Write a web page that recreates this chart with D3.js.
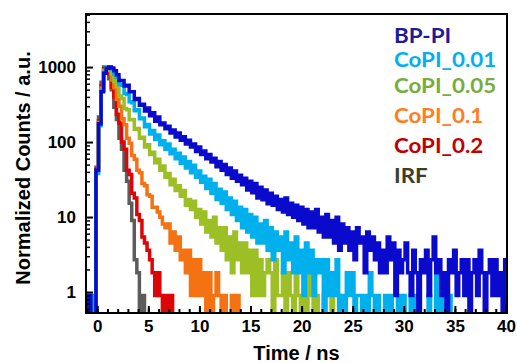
<!DOCTYPE html>
<html>
<head>
<meta charset="utf-8">
<script src="https://cdn.jsdelivr.net/npm/d3@7"></script>
<style>
  body { margin: 0; background: #fff; }
  text { font-family: "Liberation Sans", Arial, sans-serif; font-weight: bold; }
</style>
</head>
<body>
<div id="chart"></div>
<script>
// channel times (ns), shared by all decays
const time = [
  -1, -0.75, -0.5, -0.25,
  0, 0.25, 0.5, 0.75, 1, 1.25, 1.5, 1.75, 2, 2.25, 2.5, 2.75, 3, 3.25, 3.5, 3.75,
  4, 4.25, 4.5, 4.75, 5, 5.25, 5.5, 5.75, 6, 6.25, 6.5, 6.75, 7, 7.25, 7.5, 7.75,
  8, 8.25, 8.5, 8.75, 9, 9.25, 9.5, 9.75, 10, 10.25, 10.5, 10.75, 11, 11.25, 11.5, 11.75,
  12, 12.25, 12.5, 12.75, 13, 13.25, 13.5, 13.75, 14, 14.25, 14.5, 14.75, 15, 15.25, 15.5, 15.75,
  16, 16.25, 16.5, 16.75, 17, 17.25, 17.5, 17.75, 18, 18.25, 18.5, 18.75, 19, 19.25, 19.5, 19.75,
  20, 20.25, 20.5, 20.75, 21, 21.25, 21.5, 21.75, 22, 22.25, 22.5, 22.75, 23, 23.25, 23.5, 23.75,
  24, 24.25, 24.5, 24.75, 25, 25.25, 25.5, 25.75, 26, 26.25, 26.5, 26.75, 27, 27.25, 27.5, 27.75,
  28, 28.25, 28.5, 28.75, 29, 29.25, 29.5, 29.75, 30, 30.25, 30.5, 30.75, 31, 31.25, 31.5, 31.75,
  32, 32.25, 32.5, 32.75, 33, 33.25, 33.5, 33.75, 34, 34.25, 34.5, 34.75, 35, 35.25, 35.5, 35.75,
  36, 36.25, 36.5, 36.75, 37, 37.25, 37.5, 37.75, 38, 38.25, 38.5, 38.75, 39, 39.25, 39.5, 39.75,
  40
];

const names = ["BP-PI", "CoPI_0.01", "CoPI_0.05", "CoPI_0.1", "CoPI_0.2", "IRF"];

// normalized counts
const bpPI = [
  0, 0.9, 0, 0,
  42, 175, 470, 830, 965, 1000, 975, 890, 790, 660, 660, 560, 570, 470, 470, 370,
  380, 310, 320, 260, 285, 225, 245, 190, 215, 170, 180, 150, 162, 132, 145, 117,
  132, 106, 118, 94, 106, 86, 94, 75, 86, 68, 76, 60, 68, 54, 61, 47,
  55, 42, 50, 37, 45, 33, 41, 30, 36, 27, 33, 23, 30, 21, 28, 18,
  25, 17, 23, 15, 20.7, 14.4, 18.9, 12.6, 17.1, 11.7, 18, 10.8, 15.3, 9.9, 14.4, 9,
  13.5, 8.1, 12.6, 7.2, 11.7, 7.2, 12.6, 6.3, 9.9, 5.4, 10.8, 5.4, 9, 4.5, 9.9, 3.6,
  8.1, 4.5, 7.2, 3.6, 6.3, 2.7, 7.2, 4.5, 5.4, 1.8, 6.3, 3.6, 5.4, 2.7, 4.5, 1.8,
  3.6, 1.8, 5.4, 2.7, 4.5, 0.9, 3.6, 1.8, 2.7, 4.5, 1.8, 0.9, 3.6, 1.8, 0, 2.7,
  1.8, 3.6, 0.9, 2.7, 5.4, 1.8, 2.7, 0.9, 1.8, 0, 2.7, 1.8, 3.6, 0.9, 1.8, 2.7,
  0.9, 2.7, 0, 1.8, 2.7, 0.9, 3.6, 1.8, 0, 1.8, 2.7, 0.9, 2.7, 0.9, 1.8, 0,
  2.7
];
const coPI001 = [
  0, 0, 0.9, 0,
  38, 165, 490, 850, 990, 1000, 925, 805, 720, 590, 570, 445, 430, 345, 335, 262,
  270, 205, 210, 160, 172, 128, 142, 108, 124, 92, 104, 80, 94, 70, 80, 60,
  71, 52, 63, 45, 55, 39, 49, 34, 41, 29, 35, 24, 32, 20.7, 28, 17.1,
  23.4, 15.3, 21.6, 12.6, 18, 10.8, 16.2, 9, 13.5, 7.2, 12.6, 6.3, 10.8, 5.4, 9.9, 4.5,
  8.1, 4.5, 9, 3.6, 7.2, 2.7, 6.3, 3.6, 5.4, 1.8, 6.3, 2.7, 4.5, 1.8, 5.4, 1.8,
  3.6, 0.9, 4.5, 1.8, 3.6, 0.9, 2.7, 1.8, 2.7, 0, 2.7, 0.9, 1.8, 0.9, 2.7, 0,
  0.9, 0, 1.8, 0.9, 1.8, 0, 0.9, 0.9, 0, 0.9, 0, 1.8, 0.9, 0, 0.9, 0,
  0, 0.9, 0, 0.9, 0, 0, 0.9, 0, 0.9, 0, 0, 0.9, 0, 0.9, 0, 0,
  0, 0, 0.9, 0, 0, 2.7, 0, 0.9, 0, 0, 0.9, 0,
  0
];
const coPI005 = [
  0, 0, 0, 0.9,
  40, 172, 500, 870, 1000, 950, 810, 640, 550, 410, 380, 280, 270, 198, 200, 148,
  152, 112, 116, 86, 92, 68, 73, 53, 59, 42, 48, 34, 38, 27, 32, 22.5,
  26.1, 18.9, 22.5, 14.4, 17.1, 12.6, 16.2, 9.9, 12.6, 8.1, 11.7, 6.3, 9, 5.4, 9.9, 4.5,
  7.2, 3.6, 7.2, 2.7, 5.4, 1.8, 6.3, 2.7, 4.5, 1.8, 4.5, 1.8, 3.6, 0.9, 3.6, 0.9,
  2.7, 0.9, 1.8, 2.7, 1.8, 0, 2.7, 0.9, 0.9, 1.8, 0, 1.8, 0.9, 0, 1.8, 0.9,
  0, 0.9, 0, 1.8, 0.9, 0, 0.9, 0, 0, 0.9, 0, 0, 0.9, 0, 0, 0.9,
  0
];
const coPI01 = [
  0, 0.9, 0, 0,
  41, 182, 525, 905, 1000, 900, 670, 530, 370, 300, 205, 170, 112, 96, 66, 59,
  42, 39, 28, 26.1, 19.8, 18.9, 13.5, 13.5, 11.7, 9.9, 8.1, 7.2, 8.1, 4.5, 6.3, 3.6,
  5.4, 2.7, 3.6, 1.8, 3.6, 0.9, 2.7, 0.9, 2.7, 0.9, 1.8, 0, 1.8, 0, 0.9, 1.8,
  0.9, 0, 0.9, 0, 0, 0.9, 0, 0.9,
  0
];
const coPI02 = [
  0.9, 0, 0, 0,
  43, 192, 565, 950, 990, 820, 540, 400, 235, 178, 100, 80, 42, 37, 20.7, 18,
  10.8, 9, 5.4, 4.5, 3.6, 2.7, 1.8, 0.9, 1.8, 0.9, 0, 0.9, 0, 0.9, 0, 0,
  0
];
const irf = [
  0, 0, 0, 0,
  46, 215, 625, 1000, 950, 700, 500, 290, 200, 112, 80, 42, 30, 15.3, 9, 2.7,
  1.8, 0, 0.9, 0,
  0
];

const xTickValues = [0, 5, 10, 15, 20, 25, 30, 35, 40];
const yTickValues = [1, 10, 100, 1000];

const seriesValues = [bpPI, coPI001, coPI005, coPI01, coPI02, irf];
const lineColors = ["#0a0acc", "#00b0ec", "#9cbf26", "#f47212", "#dc0606", "#5c5c5c"];
const textColors = ["#1c1c98", "#00b0f0", "#76ad3c", "#ff7d1c", "#c00000", "#3c3e28"];
const legendBaselines = [43, 67, 93, 123, 153, 183];

const W = 517, H = 363;
const plot = { left: 86, right: 507, top: 14, bottom: 313 };

const svg = d3.select("#chart").append("svg")
  .attr("width", W).attr("height", H);

const x = d3.scaleLinear().domain([-1.1, 40.1]).range([plot.left, plot.right]);
const y = d3.scaleLog().domain([0.525, 5100]).range([plot.bottom, plot.top]);

svg.append("clipPath").attr("id", "clip")
  .append("rect")
  .attr("x", plot.left).attr("y", plot.top)
  .attr("width", plot.right - plot.left).attr("height", plot.bottom - plot.top);

const line = d3.line()
  .x((d, i) => x(time[i]))
  .y(d => y(Math.max(d, 0.4)))
  .curve(d3.curveStep);

// draw IRF first, BP-PI last (on top)
const order = [5, 4, 3, 2, 1, 0];
svg.append("g").attr("clip-path", "url(#clip)")
  .selectAll("path")
  .data(order)
  .join("path")
  .attr("fill", "none")
  .attr("stroke", k => lineColors[k])
  .attr("stroke-width", 3.5)
  .attr("stroke-linejoin", "miter")
  .attr("d", k => line(seriesValues[k]));

// x axis: major + minor ticks pointing inward
svg.append("g")
  .attr("transform", "translate(0," + plot.bottom + ")")
  .call(d3.axisBottom(x).tickValues(d3.range(-1, 41)).tickSize(-4).tickFormat(""))
  .call(g => g.select(".domain").remove())
  .call(g => g.selectAll("line").attr("stroke-width", 2));

svg.append("g")
  .attr("transform", "translate(0," + plot.bottom + ")")
  .call(d3.axisBottom(x).tickValues(xTickValues).tickSize(-7).tickPadding(7).tickFormat(d3.format("d")))
  .call(g => g.select(".domain").remove())
  .call(g => g.selectAll("line").attr("stroke-width", 2))
  .call(g => g.selectAll("text").attr("font-size", 17).attr("fill", "#000")
    .style("font-family", "'Liberation Sans', Arial, sans-serif").style("font-weight", "bold"));

// y axis
const minorY = y.ticks(40).filter(v => yTickValues.indexOf(v) < 0);
svg.append("g")
  .attr("transform", "translate(" + plot.left + ",0)")
  .call(d3.axisLeft(y).tickValues(minorY).tickSize(-4).tickFormat(""))
  .call(g => g.select(".domain").remove())
  .call(g => g.selectAll("line").attr("stroke-width", 1.5));

svg.append("g")
  .attr("transform", "translate(" + plot.left + ",0)")
  .call(d3.axisLeft(y).tickValues(yTickValues).tickSize(-7).tickPadding(10).tickFormat(d3.format("d")))
  .call(g => g.select(".domain").remove())
  .call(g => g.selectAll("line").attr("stroke-width", 2))
  .call(g => g.selectAll("text").attr("font-size", 17).attr("fill", "#000")
    .style("font-family", "'Liberation Sans', Arial, sans-serif").style("font-weight", "bold"));

// frame
svg.append("rect")
  .attr("x", plot.left).attr("y", plot.top)
  .attr("width", plot.right - plot.left).attr("height", plot.bottom - plot.top)
  .attr("fill", "none").attr("stroke", "#000").attr("stroke-width", 2);

// axis titles
svg.append("text")
  .attr("x", (plot.left + plot.right) / 2).attr("y", 360)
  .attr("text-anchor", "middle").attr("font-size", 20)
  .text("Time / ns");

svg.append("text")
  .attr("transform", "translate(30," + 168 + ") rotate(-90)")
  .attr("text-anchor", "middle").attr("font-size", 20)
  .text("Normalized Counts / a.u.");

// legend (slightly widened to match the original's face)
svg.append("g").selectAll("text")
  .data(names)
  .join("text")
  .attr("transform", (d, i) => "translate(394," + legendBaselines[i] + ") scale(1.12,1)")
  .attr("fill", (d, i) => textColors[i])
  .style("font-family", "Lato, 'Open Sans', sans-serif")
  .style("font-weight", "bold")
  .attr("font-size", 20)
  .text(d => d);
</script>
</body>
</html>
